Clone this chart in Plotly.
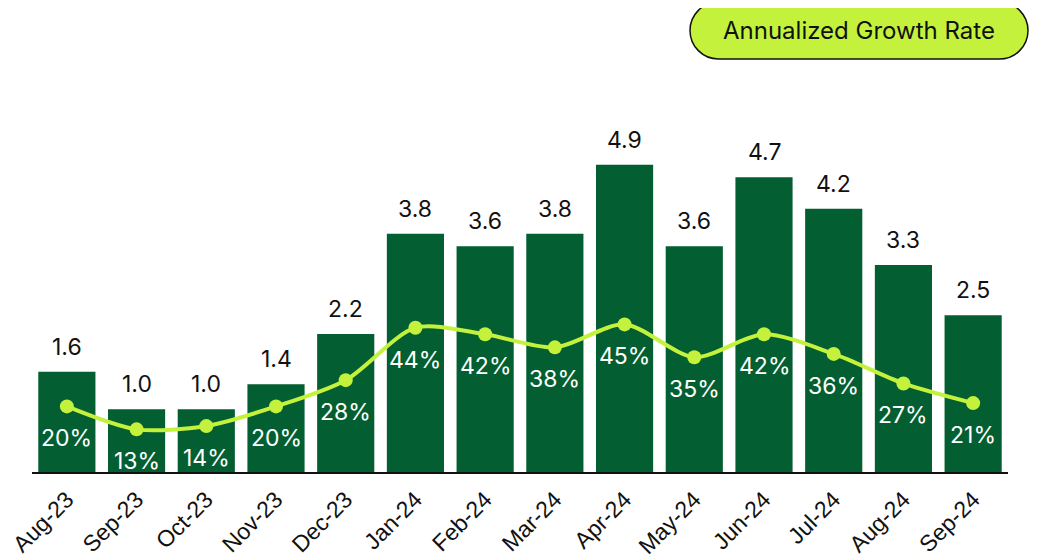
import plotly.graph_objects as go

months = ["Aug-23", "Sep-23", "Oct-23", "Nov-23", "Dec-23", "Jan-24", "Feb-24",
          "Mar-24", "Apr-24", "May-24", "Jun-24", "Jul-24", "Aug-24", "Sep-24"]
volume = [1.6, 1.0, 1.0, 1.4, 2.2, 3.8, 3.6, 3.8, 4.9, 3.6, 4.7, 4.2, 3.3, 2.5]
growth_pct = [20, 13, 14, 20, 28, 44, 42, 38, 45, 35, 42, 36, 27, 21]

BAR = "#035f31"
LIME = "#c4f23c"
FONT = "Inter"

fig = go.Figure()
fig.add_trace(go.Bar(x=months, y=volume, marker=dict(color=BAR, line=dict(width=0)),
                     showlegend=False, hoverinfo="skip"))
fig.add_trace(go.Scatter(x=months, y=growth_pct, yaxis="y2", mode="lines+markers",
                         line=dict(color=LIME, width=4, shape="spline", smoothing=0.8),
                         marker=dict(color=LIME, size=14), showlegend=False))

for m, v in zip(months, volume):
    fig.add_annotation(x=m, y=v, text=f"{v:.1f}", showarrow=False, yanchor="middle",
                       yshift=25, font=dict(family=FONT, size=23, color="#111111"))
for m, p in zip(months, growth_pct):
    fig.add_annotation(x=m, y=p, yref="y2", text=f"{p}%", showarrow=False, yanchor="middle",
                       yshift=-32, font=dict(family=FONT, size=23, color="white"))

# Legend pill (pixel offsets relative to top-right corner of plot area)
r = 28.5
cy = 69.5
xl, xr = -289.5, -8.5
top, bot = cy + r, cy - r
k = 0.5523 * r
pill = (f"M {xl},{top} L {xr},{top} "
        f"C {xr + k},{top} {xr + r},{cy + k} {xr + r},{cy} "
        f"C {xr + r},{cy - k} {xr + k},{bot} {xr},{bot} "
        f"L {xl},{bot} "
        f"C {xl - k},{bot} {xl - r},{cy - k} {xl - r},{cy} "
        f"C {xl - r},{cy + k} {xl - k},{top} {xl},{top} Z")
fig.add_shape(type="path", xref="paper", yref="paper", xsizemode="pixel", ysizemode="pixel",
              xanchor=1.0, yanchor=1.0, path=pill,
              fillcolor=LIME, line=dict(color="#111111", width=1.5), layer="above")
fig.add_annotation(xref="paper", yref="paper", x=1.0, y=1.0, xshift=(xl + xr) / 2,
                   yshift=cy, text="Annualized Growth Rate", showarrow=False,
                   xanchor="center", yanchor="middle",
                   font=dict(family=FONT, size=24, color="#111111"))

fig.update_layout(
    width=1037, height=557,
    margin=dict(l=24, r=37, t=92, b=93),
    paper_bgcolor="white", plot_bgcolor="white",
    bargap=0.18,
    font=dict(family=FONT, size=19, color="#111111"),
    xaxis=dict(showline=True, linecolor="#111111", linewidth=2, ticks="", tickangle=-45,
               automargin=False, range=[-0.5, len(months) - 0.5], ticklabelstandoff=3,
               tickfont=dict(family="Liberation Sans", size=23, color="#111111"),
               showgrid=False),
    yaxis=dict(range=[0, 372 / 62.7], visible=False, showgrid=False),
    yaxis2=dict(range=[0, 372 / 3.28], overlaying="y", visible=False, showgrid=False),
)

fig.write_html("out.html")
